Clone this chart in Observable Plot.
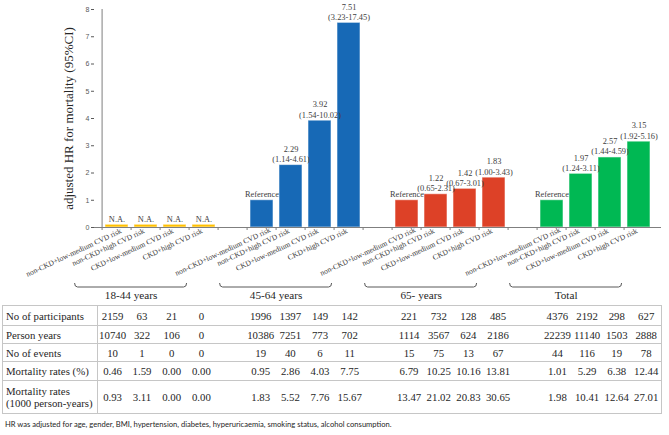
<!DOCTYPE html>
<html>
<head>
<meta charset="utf-8">
<script src="https://cdn.jsdelivr.net/npm/d3@7"></script>
<script src="https://cdn.jsdelivr.net/npm/@observablehq/plot@0.6"></script>
<style>
  body { margin: 0; background: #fff; }
  #chart svg { display: block; }
  table.stats {
    border-collapse: collapse;
    margin: 1px 0 0 2px;
    table-layout: fixed;
    font-family: "Liberation Serif", serif;
    font-size: 10.8px;
    color: #262626;
  }
  table.stats td { padding: 0; text-align: center; white-space: nowrap; vertical-align: middle; }
  table.stats tr { border-top: 1px solid #c6c6c6; border-bottom: 1px solid #c6c6c6; }
  table.stats td.lab { text-align: left; padding-left: 3px; border-left: 1px solid #c6c6c6; border-right: 1px solid #c6c6c6; line-height: 12px; }
  table.stats td.last { border-right: 1px solid #c6c6c6; }
  .caption { font-family: "Lato", sans-serif; font-size: 7.6px; color: #262626; margin: 5px 0 0 5px; }
</style>
</head>
<body>
<div id="chart"></div>
<script>
// ---------- data ----------
const groups = ["18-44 years", "45-64 years", "65- years", "Total"];
const riskCats = ["non-CKD+low-medium CVD risk", "non-CKD+high CVD risk", "CKD+low-medium CVD risk", "CKD+high CVD risk"];
const groupColors = ["#FFC000", "#1769B6", "#DD4127", "#00B853"];

const hr18 = [null, null, null, null];
const hr45 = [1, 2.29, 3.92, 7.51];
const hr65 = [1, 1.22, 1.42, 1.83];
const hrTot = [1, 1.97, 2.57, 3.15];
const ciLow45 = [null, 1.14, 1.54, 3.23];
const ciHigh45 = [null, 4.61, 10.02, 17.45];
const ciLow65 = [null, 0.65, 0.67, 1.00];
const ciHigh65 = [null, 2.31, 3.01, 3.43];
const ciLowTot = [null, 1.24, 1.44, 1.92];
const ciHighTot = [null, 3.11, 4.59, 5.16];
const naBarHeight = 0.1; // thin placeholder bar drawn for N.A.
const yTicks = [0, 1, 2, 3, 4, 5, 6, 7, 8];

const rowLabels = ["No of participants", "Person years", "No of events", "Mortality rates (%)", "Mortality rates<br>(1000 person-years)"];
const participants = [2159, 63, 21, 0, 1996, 1397, 149, 142, 221, 732, 128, 485, 4376, 2192, 298, 627];
const personYears = [10740, 322, 106, 0, 10386, 7251, 773, 702, 1114, 3567, 624, 2186, 22239, 11140, 1503, 2888];
const events = [10, 1, 0, 0, 19, 40, 6, 11, 15, 75, 13, 67, 44, 116, 19, 78];
const mortPct = [0.46, 1.59, 0.00, 0.00, 0.95, 2.86, 4.03, 7.75, 6.79, 10.25, 10.16, 13.81, 1.01, 5.29, 6.38, 12.44];
const mortRate = [0.93, 3.11, 0.00, 0.00, 1.83, 5.52, 7.76, 15.67, 13.47, 21.02, 20.83, 30.65, 1.98, 10.41, 12.64, 27.01];
const caption = "HR was adjusted for age, gender, BMI, hypertension, diabetes, hyperuricaemia, smoking status, alcohol consumption.";

// ---------- build tables ----------
const hrs = [hr18, hr45, hr65, hrTot];
const los = [[null,null,null,null], ciLow45, ciLow65, ciLowTot];
const his = [[null,null,null,null], ciHigh45, ciHigh65, ciHighTot];

const keys = [];
const bars = [];
groups.forEach((g, gi) => {
  riskCats.forEach((c, ci) => {
    const key = gi + "|" + ci;
    keys.push(key);
    const h = hrs[gi][ci], lo = los[gi][ci], hi = his[gi][ci];
    let label;
    if (h == null) label = "N.A.";
    else if (lo == null) label = "Reference";
    else label = h.toFixed(2) + "\n(" + lo.toFixed(2) + "-" + hi.toFixed(2) + ")";
    bars.push({key, group: g, cat: c, value: h == null ? naBarHeight : h, label});
  });
  if (gi < groups.length - 1) keys.push("gap" + gi);
});
const catOf = k => k.startsWith("gap") ? "" : riskCats[+k.split("|")[1]];

// ---------- layout ----------
const W = 669, H1 = 304, ML = 94, MR = 8, MT = 9, MB = 77;
const PI = 0.22, PO = 0.11;
const step = (W - ML - MR) / (keys.length - PI + 2 * PO);
const axisColor = "#7f7f7f";
const textColor = "#404040";

const firstKeys = keys.filter(k => k.endsWith("|0") && k !== "0|0");
const otherKeys = keys.filter(k => !k.endsWith("|0") && !k.startsWith("gap"));
const labelAxis = (ticks, dx, dy) => Plot.axisX({
  ticks, tickSize: 0, tickPadding: 3, tickRotate: -25, dx, dy, fontSize: 7.6,
  tickFormat: catOf, fill: textColor, label: null
});

const chart = Plot.plot({
  width: W, height: H1,
  marginLeft: ML, marginRight: MR, marginTop: MT, marginBottom: MB,
  style: { fontFamily: "Liberation Serif", background: "white", overflow: "visible" },
  x: { domain: keys, paddingInner: PI, paddingOuter: PO, label: null },
  y: { domain: [0, 8], label: null },
  color: { domain: groups, range: groupColors },
  marks: [
    Plot.barY(bars, { x: "key", y: "value", fill: "group", stroke: "white", strokeOpacity: 0.55, strokeWidth: 1 }),
    Plot.ruleY([0], { stroke: axisColor }),
    Plot.ruleX([keys[0]], { x: d => d, y1: 0, y2: 8, dx: -step / 2, stroke: axisColor }),
    Plot.axisY({ ticks: yTicks, tickSize: 3, tickPadding: 2, fontSize: 7, fontFamily: "Liberation Sans", color: "#595959", label: null }),
    Plot.axisX({ ticks: keys, tickSize: 3, dx: -step / 2, tickFormat: () => "", color: axisColor, label: null }),
    labelAxis(otherKeys, -2, 0),
    labelAxis(firstKeys, 8, -1),
    labelAxis(["0|0"], 4, 0),
    Plot.text(bars, { x: "key", y: "value", text: "label", lineAnchor: "bottom", dy: -3, fontSize: 8.4, lineHeight: 1.22, fill: textColor }),
    Plot.text(groups, { x: (d, i) => i + "|1", text: d => d, frameAnchor: "bottom", dx: -step / 2, dy: 71, fontSize: 11.2, fill: "#262626" }),
    Plot.text(["adjusted HR for mortality (95%CI)"], { text: d => d, frameAnchor: "left", textAnchor: "middle", rotate: -90, dx: -26, fontSize: 13, fill: "#262626" })
  ]
});

// group brackets positioned from the plot's own x scale
const xs = chart.scale("x");
const bw = xs.bandwidth != null ? xs.bandwidth : step * (1 - PI);
const yBr = H1 - MB + 60;
const gBr = d3.select(chart).append("g").attr("fill", "none").attr("stroke", "#595959").attr("stroke-width", 1);
groups.forEach((g, gi) => {
  const cx = xs.apply(gi + "|1") + bw / 2 - step / 2;
  const x0 = cx - 56, x1 = cx + 56;
  gBr.append("path").attr("d",
    `M${x0},${yBr - 4} Q${x0},${yBr} ${x0 + 3},${yBr} L${x1 - 3},${yBr} Q${x1},${yBr} ${x1},${yBr - 4}`);
});
document.getElementById("chart").appendChild(chart);

// ---------- statistics table ----------
const tableRows = [participants, personYears, events, mortPct.map(v => v.toFixed(2)), mortRate.map(v => v.toFixed(2))];
const rowHeights = [20, 18, 18, 19, 33];
const labW = 95;
const colW = (659 - labW) / keys.length;
const table = document.createElement("table");
table.className = "stats";
table.style.width = "659px";
const cg = document.createElement("colgroup");
cg.innerHTML = `<col style="width:${labW}px">` + keys.map(() => `<col style="width:${colW}px">`).join("");
table.appendChild(cg);
tableRows.forEach((vals, ri) => {
  const tr = document.createElement("tr");
  tr.style.height = rowHeights[ri] + "px";
  let html = `<td class="lab">${rowLabels[ri]}</td>`;
  let vi = 0;
  keys.forEach((k, ki) => {
    const cls = ki === keys.length - 1 ? ' class="last"' : "";
    if (k.startsWith("gap")) html += `<td${cls}></td>`;
    else html += `<td${cls}>${vals[vi++]}</td>`;
  });
  tr.innerHTML = html;
  table.appendChild(tr);
});
document.body.appendChild(table);

const cap = document.createElement("div");
cap.className = "caption";
cap.textContent = caption;
document.body.appendChild(cap);
</script>
</body>
</html>
